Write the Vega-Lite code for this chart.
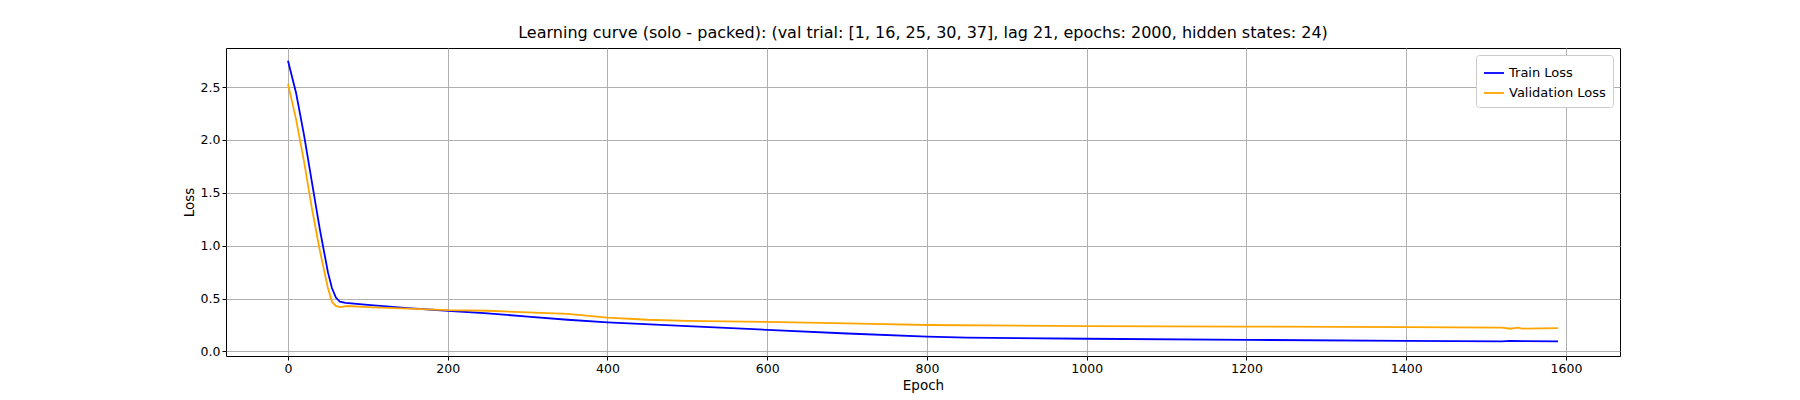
{
  "$schema": "https://vega.github.io/schema/vega-lite/v6.json",
  "width": 1394,
  "height": 308,
  "autosize": "none",
  "padding": {"left": 226, "top": 48, "right": 180, "bottom": 44},
  "background": "white",
  "title": {"text": "Learning curve (solo - packed): (val trial: [1, 16, 25, 30, 37], lag 21, epochs: 2000, hidden states: 24)", "font": "DejaVu Sans", "fontSize": 16, "fontWeight": "normal", "anchor": "middle", "offset": 7},
  "data": {"values": [
    {"epoch": 0, "loss": 2.75, "series": "Train Loss"},
    {"epoch": 10, "loss": 2.45, "series": "Train Loss"},
    {"epoch": 20, "loss": 2.05, "series": "Train Loss"},
    {"epoch": 30, "loss": 1.6, "series": "Train Loss"},
    {"epoch": 40, "loss": 1.15, "series": "Train Loss"},
    {"epoch": 50, "loss": 0.75, "series": "Train Loss"},
    {"epoch": 55, "loss": 0.6, "series": "Train Loss"},
    {"epoch": 60, "loss": 0.51, "series": "Train Loss"},
    {"epoch": 65, "loss": 0.47, "series": "Train Loss"},
    {"epoch": 72, "loss": 0.46, "series": "Train Loss"},
    {"epoch": 100, "loss": 0.44, "series": "Train Loss"},
    {"epoch": 150, "loss": 0.41, "series": "Train Loss"},
    {"epoch": 200, "loss": 0.385, "series": "Train Loss"},
    {"epoch": 250, "loss": 0.36, "series": "Train Loss"},
    {"epoch": 300, "loss": 0.33, "series": "Train Loss"},
    {"epoch": 350, "loss": 0.3, "series": "Train Loss"},
    {"epoch": 400, "loss": 0.275, "series": "Train Loss"},
    {"epoch": 500, "loss": 0.24, "series": "Train Loss"},
    {"epoch": 600, "loss": 0.205, "series": "Train Loss"},
    {"epoch": 700, "loss": 0.17, "series": "Train Loss"},
    {"epoch": 800, "loss": 0.14, "series": "Train Loss"},
    {"epoch": 850, "loss": 0.13, "series": "Train Loss"},
    {"epoch": 1000, "loss": 0.12, "series": "Train Loss"},
    {"epoch": 1200, "loss": 0.11, "series": "Train Loss"},
    {"epoch": 1400, "loss": 0.1, "series": "Train Loss"},
    {"epoch": 1520, "loss": 0.095, "series": "Train Loss"},
    {"epoch": 1530, "loss": 0.1, "series": "Train Loss"},
    {"epoch": 1590, "loss": 0.095, "series": "Train Loss"},
    {"epoch": 0, "loss": 2.53, "series": "Validation Loss"},
    {"epoch": 10, "loss": 2.2, "series": "Validation Loss"},
    {"epoch": 20, "loss": 1.8, "series": "Validation Loss"},
    {"epoch": 30, "loss": 1.35, "series": "Validation Loss"},
    {"epoch": 40, "loss": 0.95, "series": "Validation Loss"},
    {"epoch": 50, "loss": 0.6, "series": "Validation Loss"},
    {"epoch": 55, "loss": 0.47, "series": "Validation Loss"},
    {"epoch": 60, "loss": 0.43, "series": "Validation Loss"},
    {"epoch": 65, "loss": 0.42, "series": "Validation Loss"},
    {"epoch": 75, "loss": 0.43, "series": "Validation Loss"},
    {"epoch": 100, "loss": 0.42, "series": "Validation Loss"},
    {"epoch": 150, "loss": 0.405, "series": "Validation Loss"},
    {"epoch": 200, "loss": 0.39, "series": "Validation Loss"},
    {"epoch": 250, "loss": 0.385, "series": "Validation Loss"},
    {"epoch": 300, "loss": 0.37, "series": "Validation Loss"},
    {"epoch": 350, "loss": 0.355, "series": "Validation Loss"},
    {"epoch": 400, "loss": 0.32, "series": "Validation Loss"},
    {"epoch": 450, "loss": 0.3, "series": "Validation Loss"},
    {"epoch": 500, "loss": 0.29, "series": "Validation Loss"},
    {"epoch": 600, "loss": 0.28, "series": "Validation Loss"},
    {"epoch": 700, "loss": 0.265, "series": "Validation Loss"},
    {"epoch": 800, "loss": 0.25, "series": "Validation Loss"},
    {"epoch": 1000, "loss": 0.24, "series": "Validation Loss"},
    {"epoch": 1200, "loss": 0.235, "series": "Validation Loss"},
    {"epoch": 1400, "loss": 0.23, "series": "Validation Loss"},
    {"epoch": 1520, "loss": 0.225, "series": "Validation Loss"},
    {"epoch": 1530, "loss": 0.215, "series": "Validation Loss"},
    {"epoch": 1540, "loss": 0.225, "series": "Validation Loss"},
    {"epoch": 1545, "loss": 0.215, "series": "Validation Loss"},
    {"epoch": 1590, "loss": 0.22, "series": "Validation Loss"}
  ]},
  "mark": {"type": "line", "strokeWidth": 1.8},
  "encoding": {
    "x": {"field": "epoch", "type": "quantitative", "title": "Epoch",
      "scale": {"domain": [-77.6, 1667.6], "nice": false, "zero": false},
      "axis": {"values": [0, 200, 400, 600, 800, 1000, 1200, 1400, 1600], "format": "d"}},
    "y": {"field": "loss", "type": "quantitative", "title": "Loss",
      "scale": {"domain": [-0.043, 2.87], "nice": false, "zero": false},
      "axis": {"values": [0, 0.5, 1, 1.5, 2, 2.5], "format": ".1f"}},
    "color": {"field": "series", "type": "nominal",
      "scale": {"domain": ["Train Loss", "Validation Loss"], "range": ["blue", "orange"]},
      "legend": {"orient": "top-right", "title": null, "symbolType": "stroke", "symbolStrokeWidth": 1.8,
        "fillColor": "white", "strokeColor": "#cccccc", "padding": 7, "cornerRadius": 3, "offset": 7, "labelFontSize": 13, "labelFont": "DejaVu Sans", "symbolSize": 400}}
  },
  "config": {
    "view": {"stroke": "black", "strokeWidth": 1},
    "axis": {"gridColor": "#b0b0b0", "gridWidth": 1, "domain": false, "tickColor": "black", "tickSize": 4,
      "labelFont": "DejaVu Sans", "labelFontSize": 12.5, "labelColor": "black",
      "titleFont": "DejaVu Sans", "titleFontSize": 13.5, "titleFontWeight": "normal", "titleColor": "black"}
  }
}
